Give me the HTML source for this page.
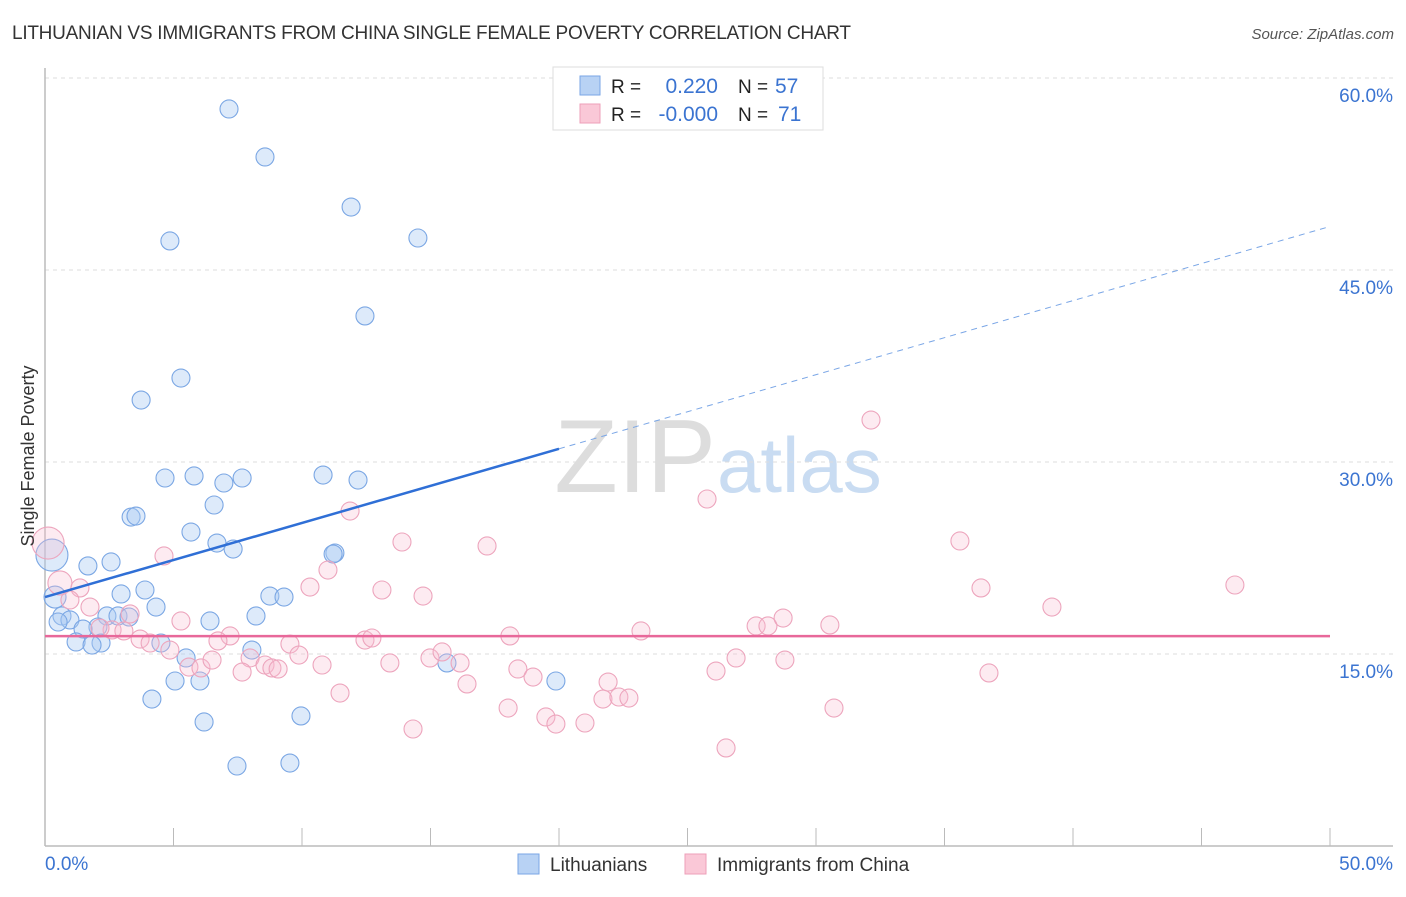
<!DOCTYPE html>
<html><head><meta charset="utf-8"><style>
body{margin:0;background:#fff;font-family:"Liberation Sans",sans-serif}
svg text{font-family:"Liberation Sans",sans-serif}
</style></head><body>
<svg width="1406" height="892" xmlns="http://www.w3.org/2000/svg">
<text x="12" y="39" font-size="19" fill="#333" textLength="839">LITHUANIAN VS IMMIGRANTS FROM CHINA SINGLE FEMALE POVERTY CORRELATION CHART</text>
<text x="1394" y="39" font-size="15" fill="#555" font-style="italic" text-anchor="end">Source: ZipAtlas.com</text>
<text x="716" y="492" font-size="104" fill="#ddd" text-anchor="end" font-family="Liberation Serif">ZIP</text>
<text x="717" y="492" font-size="78" fill="#c9dcf2">atlas</text>
<g id="grid"></g>
<g id="axes"></g>
<g id="marks"></g>
<text x="34" y="456" font-size="18" fill="#333" text-anchor="middle" transform="rotate(-90 34 456)">Single Female Poverty</text>
<g>
<rect x="553" y="67" width="270" height="63" fill="#fff" stroke="#ddd"/>
<rect x="580" y="76" width="20" height="19" fill="#b8d2f4" stroke="#7aa6e6"/>
<rect x="580" y="104" width="20" height="19" fill="#fac8d7" stroke="#ee9fb8"/>
<text x="611" y="93" font-size="19" fill="#222">R =</text><text x="718" y="93" font-size="21" fill="#3b74d1" text-anchor="end">0.220</text>
<text x="738" y="93" font-size="19" fill="#222">N =</text><text x="775" y="93" font-size="21" fill="#3b74d1">57</text>
<text x="611" y="121" font-size="19" fill="#222">R =</text><text x="718" y="121" font-size="21" fill="#3b74d1" text-anchor="end">-0.000</text>
<text x="738" y="121" font-size="19" fill="#222">N =</text><text x="778" y="121" font-size="21" fill="#3b74d1">71</text>
</g>
<g>
<rect x="518" y="854" width="21" height="20" fill="#b8d2f4" stroke="#7aa6e6"/>
<text x="550" y="871" font-size="19" fill="#333">Lithuanians</text>
<rect x="685" y="854" width="21" height="20" fill="#fac8d7" stroke="#ee9fb8"/>
<text x="717" y="871" font-size="19" fill="#333">Immigrants from China</text>
</g>
</svg>
<script>
const yTicks=[15,30,45,60];
const yTickLabels=["15.0%","30.0%","45.0%","60.0%"];
const xTickLabels=["0.0%","50.0%"];
const blueX=[7.16,8.56,11.91,4.86,14.51,12.45,5.29,3.74,4.67,5.80,7.67,10.82,12.18,6.96,6.58,3.35,3.54,5.68,6.69,7.32,11.28,11.21,1.67,2.57,0.27,3.89,2.96,8.75,9.30,0.39,4.32,2.41,2.84,3.27,8.21,0.66,0.97,0.51,6.42,2.06,1.48,1.21,2.18,1.83,4.51,8.05,5.49,15.64,5.06,6.03,19.88,4.16,6.19,9.96,7.47,9.53];
const blueY=[57.58,53.83,49.92,47.27,47.5,41.41,36.56,34.84,28.75,28.91,28.75,28.98,28.59,28.36,26.64,25.70,25.78,24.53,23.67,23.20,22.89,22.81,21.88,22.19,22.73,20.0,19.69,19.53,19.45,19.45,18.67,17.97,17.97,17.89,17.97,17.97,17.66,17.5,17.58,17.11,16.95,15.94,15.86,15.70,15.86,15.31,14.69,14.30,12.89,12.89,12.89,11.48,9.69,10.16,6.25,6.48];
const blueR=[9,9,9,9,9,9,9,9,9,9,9,9,9,9,9,9,9,9,9,9,9,9,9,9,16,9,9,9,9,11,9,9,9,9,9,9,9,9,9,9,9,9,9,9,9,9,9,9,9,9,9,9,9,9,9,9];
const pinkX=[0.12,0.58,1.36,1.75,0.97,4.63,11.01,11.87,13.89,17.20,25.76,32.14,35.60,36.42,46.30,39.18,14.71,13.11,10.31,3.31,5.29,2.61,2.14,3.07,3.70,4.09,4.86,7.20,6.73,9.53,12.45,12.72,18.09,23.19,27.67,28.13,28.72,30.54,9.88,7.98,8.56,8.83,9.07,7.67,5.60,6.07,6.50,10.78,13.42,14.98,15.45,16.15,18.40,18.99,16.42,21.91,26.11,26.89,28.79,36.73,11.48,18.02,19.49,19.88,21.01,21.71,22.33,22.72,30.70,14.32,26.50];
const pinkY=[23.67,20.55,20.16,18.67,19.22,22.66,21.56,26.17,23.75,23.44,27.11,33.28,23.83,20.16,20.39,18.67,19.53,20.0,20.23,18.13,17.58,16.88,17.03,16.80,16.17,15.86,15.31,16.41,16.02,15.78,16.09,16.25,16.41,16.80,17.19,17.19,17.81,17.27,14.92,14.69,14.14,13.91,13.83,13.59,13.98,13.91,14.53,14.14,14.30,14.69,15.16,14.30,13.83,13.20,12.66,12.81,13.67,14.69,14.53,13.52,11.95,10.78,10.08,9.53,9.61,11.48,11.64,11.56,10.78,9.14,7.66];
const pinkR=[16,12,9,9,9,9,9,9,9,9,9,9,9,9,9,9,9,9,9,9,9,9,9,9,9,9,9,9,9,9,9,9,9,9,9,9,9,9,9,9,9,9,9,9,9,9,9,9,9,9,9,9,9,9,9,9,9,9,9,9,9,9,9,9,9,9,9,9,9,9,9];
const blueTrend=[19.45,48.4];
const pinkTrend=[16.4,16.4];
const X=v=>45+v*25.7, Y=v=>846-v*12.8;
const NS="http://www.w3.org/2000/svg";
function mk(t,a,p){const e=document.createElementNS(NS,t);for(const k in a)e.setAttribute(k,a[k]);p.appendChild(e);return e;}
const grid=document.getElementById('grid'),axes=document.getElementById('axes'),marks=document.getElementById('marks');
yTicks.forEach((t,i)=>{
 const l=mk('line',{x1:45,x2:1393,y1:Y(t),y2:Y(t),stroke:'#ddd','stroke-dasharray':'4,4'},grid);
 
 
 const tx=mk('text',{x:1393,y:Y(t)+24,'font-size':19,fill:'#3b74d1','text-anchor':'end'},grid);tx.textContent=yTickLabels[i];
 
 
});
const ya=mk('line',{x1:45,x2:45,y1:68,y2:846,stroke:'#bbb','stroke-width':1.5},axes);


const xa=mk('line',{x1:45,x2:1393,y1:846,y2:846,stroke:'#bbb','stroke-width':1.5},axes);


for(let i=0;i<=10;i++){const t=mk('line',{x1:X(i*5),x2:X(i*5),y1:828,y2:846,stroke:'#bbb'},axes);
 
 }
[[0,'start',45],[50,'end',1393]].forEach((d,i)=>{const t=mk('text',{x:d[2],y:870,'font-size':19,fill:'#3b74d1','text-anchor':d[1]},axes);t.textContent=xTickLabels[i];
 
 });
blueX.forEach((x,i)=>{const c=mk('circle',{cx:X(x),cy:Y(blueY[i]),r:blueR[i],fill:'rgba(170,202,242,0.4)',stroke:'#7ba7e4','stroke-width':1.1},marks);
 
 });
pinkX.forEach((x,i)=>{const c=mk('circle',{cx:X(x),cy:Y(pinkY[i]),r:pinkR[i],fill:'rgba(248,190,208,0.3)',stroke:'#eda5bd','stroke-width':1.1},marks);
 
 });
const bAt=x=>blueTrend[0]+(blueTrend[1]-blueTrend[0])*x/50;
const b1=mk('line',{x1:X(0),y1:Y(bAt(0)),x2:X(20),y2:Y(bAt(20)),stroke:'#2f6fd6','stroke-width':2.5},marks);


const b2=mk('line',{x1:X(20),y1:Y(bAt(20)),x2:X(50),y2:Y(bAt(50)),stroke:'#7aa6e6','stroke-width':1,'stroke-dasharray':'6,5'},marks);


const p1=mk('line',{x1:X(0),y1:Y(pinkTrend[0]),x2:X(50),y2:Y(pinkTrend[1]),stroke:'#e8689a','stroke-width':2.5},marks);


</script>
</body></html>
